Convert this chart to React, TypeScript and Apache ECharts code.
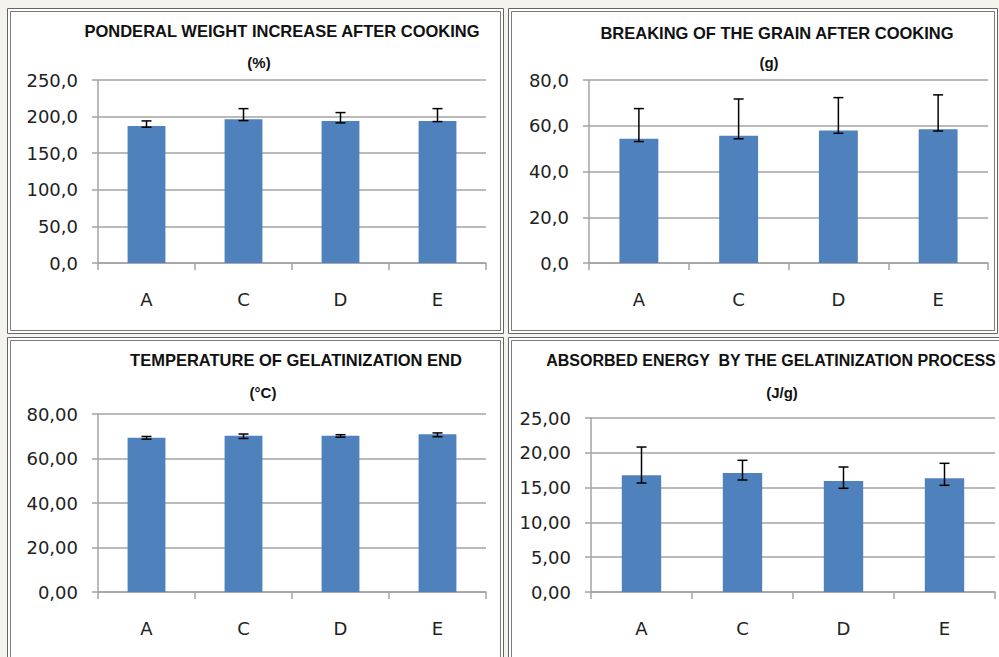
import React, { useEffect, useRef } from "react";
import * as echarts from "echarts";

const categories = ["A", "C", "D", "E"];

const weightTitle = "PONDERAL WEIGHT INCREASE AFTER COOKING";
const weightUnit = "(%)";
const weightValues = [187.3, 196.4, 194.1, 194.1];
const weightLow = [185.5, 194.5, 191.4, 193.2];
const weightHigh = [194.1, 210.9, 205.5, 210.9];

const breakTitle = "BREAKING OF THE GRAIN AFTER COOKING";
const breakUnit = "(g)";
const breakValues = [54.3, 55.6, 57.9, 58.5];
const breakLow = [53.1, 54.3, 56.7, 57.7];
const breakHigh = [67.5, 71.7, 72.3, 73.5];

const tempTitle = "TEMPERATURE OF GELATINIZATION END";
const tempUnit = "(°C)";
const tempValues = [69.3, 70.2, 70.2, 70.9];
const tempLow = [68.7, 69.0, 69.6, 69.8];
const tempHigh = [69.9, 71.0, 70.7, 71.5];

const energyTitle = "ABSORBED ENERGY  BY THE GELATINIZATION PROCESS";
const energyUnit = "(J/g)";
const energyValues = [16.76, 17.1, 15.95, 16.33];
const energyLow = [15.66, 16.09, 14.9, 15.33];
const energyHigh = [20.83, 18.92, 17.96, 18.49];

const panels = [
  { title: weightTitle, unit: weightUnit, values: weightValues, low: weightLow, high: weightHigh, max: 250, interval: 50, decimals: 1,
    grid: { left: 98, top: 80, width: 388, height: 183 }, frame: [7, 8, 496, 325], titlePos: [282, 31], unitPos: [259, 62], titleSize: 16.5 },
  { title: breakTitle, unit: breakUnit, values: breakValues, low: breakLow, high: breakHigh, max: 80, interval: 20, decimals: 1,
    grid: { left: 589, top: 80, width: 399, height: 183 }, frame: [508, 8, 489, 325], titlePos: [777, 33], unitPos: [769, 62], titleSize: 16.5 },
  { title: tempTitle, unit: tempUnit, values: tempValues, low: tempLow, high: tempHigh, max: 80, interval: 20, decimals: 2,
    grid: { left: 98, top: 414, width: 388, height: 178 }, frame: [7, 337, 496, 330], titlePos: [296, 360], unitPos: [263, 392], titleSize: 16.5 },
  { title: energyTitle, unit: energyUnit, values: energyValues, low: energyLow, high: energyHigh, max: 25, interval: 5, decimals: 2,
    grid: { left: 591, top: 418, width: 404, height: 174 }, frame: [508, 337, 500, 330], titlePos: [771, 360], unitPos: [782, 392], titleSize: 16 },
];

export default function App() {
  const ref = useRef<HTMLDivElement>(null);
  useEffect(() => {
    if (!ref.current) return;
    const chart = echarts.init(ref.current, null, { renderer: "svg" });
    const gray = "#a3a3a3";
    const graphics: any[] = [];
    panels.forEach((p) => {
      const [x, y, w, h] = p.frame;
      graphics.push({ type: "rect", z: -10, shape: { x: x + 0.5, y: y + 0.5, width: w, height: h }, style: { fill: "#ffffff", stroke: "#666666", lineWidth: 1 } });
      graphics.push({ type: "rect", z: -9, shape: { x: x + 3.5, y: y + 3.5, width: w - 6, height: h - 6 }, style: { fill: "#ffffff", stroke: "#7a7a7a", lineWidth: 1 } });
      graphics.push({ type: "text", z: 5, x: p.titlePos[0], y: p.titlePos[1], style: { text: p.title, font: `bold ${p.titleSize}px 'Liberation Sans', Arial, sans-serif`, fill: "#111111", align: "center", verticalAlign: "middle" } });
      graphics.push({ type: "text", z: 5, x: p.unitPos[0], y: p.unitPos[1], style: { text: p.unit, font: "bold 15px 'Liberation Sans', Arial, sans-serif", fill: "#111111", align: "center", verticalAlign: "middle" } });
    });

    const option: any = {
      animation: false,
      backgroundColor: "#f4f3ee",
      grid: panels.map((p) => ({ ...p.grid, containLabel: false })),
      xAxis: panels.map((p, i) => ({
        type: "category",
        gridIndex: i,
        data: categories,
        axisLine: { show: true, lineStyle: { color: gray, width: 1.5 } },
        axisTick: { show: true, length: 7, interval: 0, alignWithLabel: false, lineStyle: { color: gray, width: 1.5 } },
        axisLabel: { margin: 27, fontSize: 18, color: "#222222", fontFamily: "'DejaVu Sans', sans-serif" },
        splitLine: { show: false },
      })),
      yAxis: panels.map((p, i) => ({
        type: "value",
        gridIndex: i,
        min: 0,
        max: p.max,
        interval: p.interval,
        axisLine: { show: true, lineStyle: { color: gray, width: 1.5 } },
        axisTick: { show: true, length: 6, lineStyle: { color: gray, width: 1.5 } },
        splitLine: { show: true, lineStyle: { color: gray, width: 1.5 } },
        axisLabel: {
          margin: 20,
          fontSize: 18,
          color: "#222222",
          fontFamily: "'DejaVu Sans', sans-serif",
          formatter: (v: number) => v.toFixed(p.decimals).replace(".", ","),
        },
      })),
      series: panels.flatMap((p, i) => [
        {
          type: "bar",
          xAxisIndex: i,
          yAxisIndex: i,
          data: p.values,
          barWidth: "39%",
          itemStyle: { color: "#4f81bd" },
        },
        {
          type: "custom",
          xAxisIndex: i,
          yAxisIndex: i,
          z: 5,
          data: p.low.map((lo, k) => [k, lo, p.high[k]]),
          renderItem: (params: any, api: any) => {
            const k = api.value(0);
            const lo = api.coord([k, api.value(1)]);
            const hi = api.coord([k, api.value(2)]);
            const half = 5;
            const st = { stroke: "#000000", lineWidth: 1.5 };
            return {
              type: "group",
              children: [
                { type: "line", shape: { x1: lo[0], y1: lo[1], x2: hi[0], y2: hi[1] }, style: st },
                { type: "line", shape: { x1: lo[0] - half, y1: lo[1], x2: lo[0] + half, y2: lo[1] }, style: st },
                { type: "line", shape: { x1: hi[0] - half, y1: hi[1], x2: hi[0] + half, y2: hi[1] }, style: st },
              ],
            };
          },
        },
      ]),
      graphic: graphics,
    };
    chart.setOption(option);
    return () => chart.dispose();
  }, []);
  return (
    <div style={{ position: "fixed", left: 0, top: 0, width: 999, height: 657, overflow: "hidden" }}>
      <div ref={ref} style={{ width: 999, height: 657 }} />
    </div>
  );
}
